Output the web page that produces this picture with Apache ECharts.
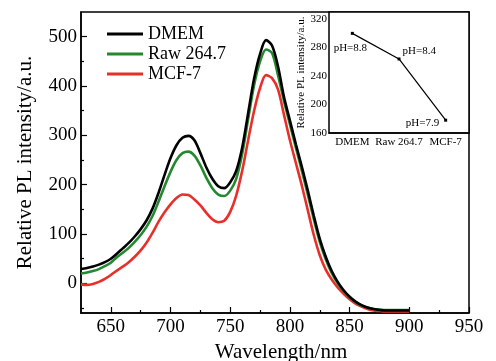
<!DOCTYPE html>
<html>
<head>
<meta charset="utf-8">
<script src="https://cdn.jsdelivr.net/npm/echarts@6/dist/echarts.min.js"></script>
<style>html,body{margin:0;padding:0;background:#fff;}#c{width:496px;height:361px;}</style>
</head>
<body>
<div id="c"></div>
<script>
const wavelength = [625,630,635,640,645,650,655,660,665,670,675,680,685,690,695,700,705,710,715,720,725,730,735,740,745,750,755,760,765,770,775,780,785,790,795,800,805,810,815,820,825,830,835,840,845,850,855,860,865,870,875,880,885,890,895,900];
const dmem = [29,31,34,38,43,50,60,71,82,95,110,128,152,184,220,254,280,295,299,290,264,235,212,197,193,205,228,275,345,415,465,493,482,440,378,330,282,236,188,137,90,54,25,3,-14,-27,-37,-44,-49,-52,-54,-55,-55,-55,-55,-55];
const raw = [20,22,25,29,35,42,53,62,72,84,98,115,137,166,197,226,250,264,267,259,239,214,193,180,177,188,212,262,333,402,450,474,467,422,370,322,275,228,180,130,84,49,21,0,-16,-28,-38,-45,-49,-52,-53,-54,-54,-54,-54,-54];
const mcf = [-2,-3,-1,3,9,17,26,34,43,54,67,83,103,125,144,160,173,180,179,170,158,143,130,124,127,145,178,228,290,350,396,422,416,393,342,290,244,198,148,98,57,28,8,-8,-21,-32,-41,-47,-52,-55,-56,-57,-57,-57,-57,-57];
const seriesNames = ['DMEM','Raw 264.7','MCF-7'];
const xMajorTicks = [650,700,750,800,850,900,950];
const xMinorTicks = [675,725,775,825,875,925];
const yMajorTicks = [0,100,200,300,400,500];
const yMinorTicks = [-50,50,150,250,350,450];
const insetCats = ['DMEM','Raw 264.7','MCF-7'];
const insetVals = [300,264,178];
const insetLabels = ['pH=8.8','pH=8.4','pH=7.9'];
const insetTicks = [160,200,240,280,320];

const FONT = 'Liberation Serif';
const zip = (a) => wavelength.map((w,i)=>[w,a[i]]);
const colors = ['#000000','#23882f','#e8302b'];
const labelCfg = [
  {position:'bottom', distance:8, offset:[-2,0]},
  {position:'right', distance:2, offset:[0,-8]},
  {position:'left', distance:5, offset:[0,3]}
];

const chart = echarts.init(document.getElementById('c'), null, {renderer:'canvas'});
chart.setOption({
  animation:false,
  backgroundColor:'#fff',
  textStyle:{fontFamily:FONT, color:'#000'},
  grid:[
    {left:81, right:27, top:12, bottom:48, containLabel:false, outerBoundsMode:'none', show:true, borderColor:'#000', borderWidth:1.5, backgroundColor:'transparent'},
    {left:329, right:27, top:12, bottom:228, containLabel:false, outerBoundsMode:'none', show:true, borderColor:'#000', borderWidth:1.5, backgroundColor:'#fff'}
  ],
  legend:{
    data:seriesNames, orient:'vertical', left:102, top:20, icon:'rect', itemWidth:36, itemHeight:3, itemGap:2,
    textStyle:{fontFamily:FONT, fontSize:18, color:'#000'}
  },
  xAxis:[
    {type:'value', gridIndex:0, position:'bottom', min:625, max:950, interval:25,
     name:'Wavelength/nm', nameLocation:'middle', nameGap:27,
     nameTextStyle:{fontFamily:FONT, fontSize:21, color:'#000', padding:[0,0,0,12]},
     axisLine:{onZero:false, lineStyle:{color:'#000', width:1.5}},
     axisTick:{inside:true, length:6, customValues:xMajorTicks, lineStyle:{color:'#000', width:1.2}},
     axisLabel:{customValues:xMajorTicks, fontFamily:FONT, fontSize:19, color:'#000', margin:5},
     splitLine:{show:false}},
    {type:'value', gridIndex:0, position:'bottom', min:625, max:950, interval:25,
     axisLine:{show:false, onZero:false}, axisLabel:{show:false}, splitLine:{show:false},
     axisTick:{inside:true, length:3, customValues:xMinorTicks, lineStyle:{color:'#000', width:1.2}}},
    {type:'category', gridIndex:1, position:'bottom', data:insetCats,
     axisLine:{onZero:false, lineStyle:{color:'#000', width:1.5}},
     axisTick:{inside:true, length:3, lineStyle:{color:'#000'}},
     axisLabel:{fontFamily:FONT, fontSize:11, color:'#000', margin:4, interval:0},
     splitLine:{show:false}}
  ],
  yAxis:[
    {type:'value', gridIndex:0, position:'left', min:-60, max:550, interval:50,
     name:'Relative PL intensity/a.u.', nameLocation:'middle', nameGap:45,
     nameTextStyle:{fontFamily:FONT, fontSize:21, color:'#000'},
     axisLine:{onZero:false, lineStyle:{color:'#000', width:1.5}},
     axisTick:{inside:true, length:6, customValues:yMajorTicks, lineStyle:{color:'#000', width:1.2}},
     axisLabel:{customValues:yMajorTicks, fontFamily:FONT, fontSize:19, color:'#000', margin:4},
     splitLine:{show:false}},
    {type:'value', gridIndex:0, position:'left', min:-60, max:550, interval:50,
     axisLine:{show:false, onZero:false}, axisLabel:{show:false}, splitLine:{show:false},
     axisTick:{inside:true, length:3, customValues:yMinorTicks, lineStyle:{color:'#000', width:1.2}}},
    {type:'value', gridIndex:1, position:'left', min:160, max:330, interval:40,
     name:'Relative PL intensity/a.u.', nameLocation:'middle', nameGap:22,
     nameTextStyle:{fontFamily:FONT, fontSize:11, color:'#000'},
     axisLine:{onZero:false, lineStyle:{color:'#000', width:1.5}},
     axisTick:{inside:true, length:3, customValues:insetTicks, lineStyle:{color:'#000'}},
     axisLabel:{customValues:insetTicks, fontFamily:FONT, fontSize:11, color:'#000', margin:2},
     splitLine:{show:false}}
  ],
  series:[
    {name:seriesNames[0], type:'line', xAxisIndex:0, yAxisIndex:0, data:zip(dmem), symbol:'none', smooth:0.3, color:colors[0], lineStyle:{width:2.6, color:colors[0]}, z:4},
    {name:seriesNames[1], type:'line', xAxisIndex:0, yAxisIndex:0, data:zip(raw), symbol:'none', smooth:0.3, color:colors[1], lineStyle:{width:2.6, color:colors[1]}, z:3},
    {name:seriesNames[2], type:'line', xAxisIndex:0, yAxisIndex:0, data:zip(mcf), symbol:'none', smooth:0.3, color:colors[2], lineStyle:{width:2.6, color:colors[2]}, z:2},
    {name:'inset', type:'line', xAxisIndex:2, yAxisIndex:2, symbol:'rect', symbolSize:3,
     color:'#000', lineStyle:{width:1.2, color:'#000'},
     data:insetVals.map((v,i)=>({value:v, label:Object.assign({show:true, formatter:insetLabels[i], fontFamily:FONT, fontSize:11, color:'#000'}, labelCfg[i])})),
     z:5}
  ]
});
</script>
</body>
</html>
